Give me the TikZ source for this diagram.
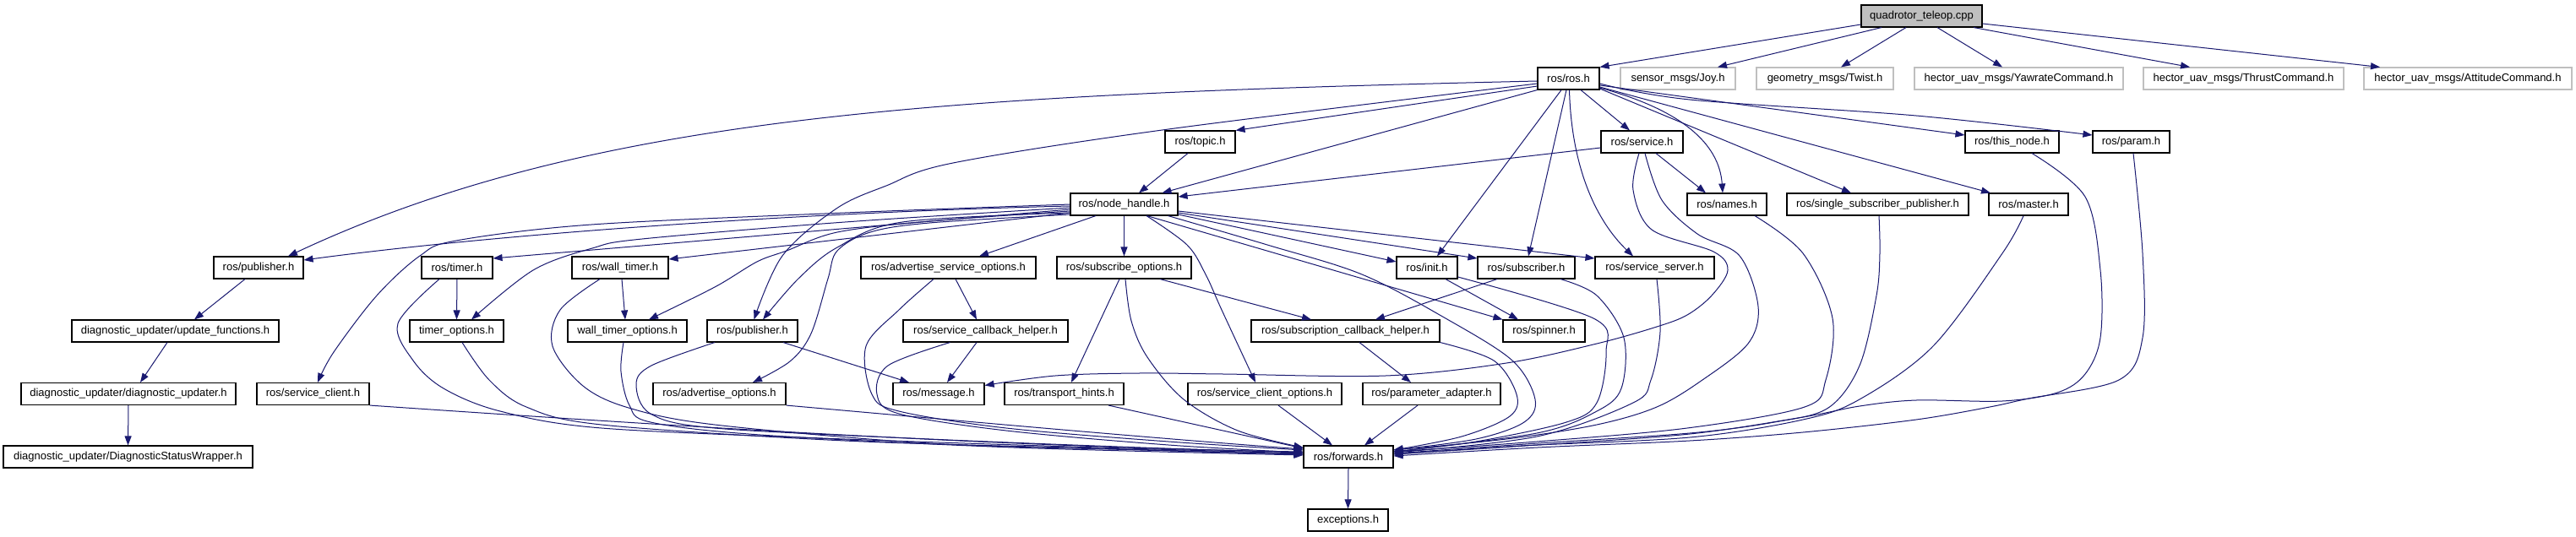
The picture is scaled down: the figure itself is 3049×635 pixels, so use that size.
\documentclass[tikz,border=0pt]{standalone}
\usepackage{fontspec}
\setmainfont{Liberation Sans}
\usetikzlibrary{arrows.meta}
\definecolor{mblue}{HTML}{191970}
\definecolor{lgray}{HTML}{BFBFBF}
\tikzset{
  hbox/.style={draw=black, line width=1.1pt, fill=white, minimum height=26pt, inner sep=0pt,
    font=\fontsize{13pt}{15pt}\selectfont},
  gbox/.style={hbox, draw=lgray},
  dep/.style={draw=mblue, line width=1pt, -{Triangle[length=11pt,width=8pt]}},
  sm/.style={smooth, tension=.55}
}
\begin{document}
\begin{tikzpicture}[x=1pt,y=-1pt]
\fill[white] (0,0) rectangle (3049,635);
\useasboundingbox (0,0) rectangle (3049,635);
% nodes
\node[hbox, fill=lgray, minimum width=143pt] (qt) at (2274.5,19) {quadrotor\_teleop.cpp};
\node[hbox, minimum width=73pt] (ros) at (1856.5,93) {ros/ros.h};
\node[gbox, minimum width=136pt] (joy) at (1986,93) {sensor\_msgs/Joy.h};
\node[gbox, minimum width=162pt] (twist) at (2160,93) {geometry\_msgs/Twist.h};
\node[gbox, minimum width=247pt] (yaw) at (2389.5,93) {hector\_uav\_msgs/YawrateCommand.h};
\node[gbox, minimum width=237pt] (thrust) at (2655.5,93) {hector\_uav\_msgs/ThrustCommand.h};
\node[gbox, minimum width=246pt] (att) at (2921,93) {hector\_uav\_msgs/AttitudeCommand.h};
\node[hbox, minimum width=83pt] (topic) at (1420.5,168) {ros/topic.h};
\node[hbox, minimum width=97pt] (service) at (1943.5,168) {ros/service.h};
\node[hbox, minimum width=111pt] (thisnode) at (2381.5,168) {ros/this\_node.h};
\node[hbox, minimum width=91pt] (param) at (2522.5,168) {ros/param.h};
\node[hbox, minimum width=127pt] (nh) at (1330.5,242) {ros/node\_handle.h};
\node[hbox, minimum width=94pt] (names) at (2044,242) {ros/names.h};
\node[hbox, minimum width=215pt] (ssp) at (2222.5,242) {ros/single\_subscriber\_publisher.h};
\node[hbox, minimum width=94pt] (master) at (2401,242) {ros/master.h};
\node[hbox, minimum width=106pt] (pubA) at (306,317) {ros/publisher.h};
\node[hbox, minimum width=84pt] (timer) at (541,317) {ros/timer.h};
\node[hbox, minimum width=114pt] (wtimer) at (734,317) {ros/wall\_timer.h};
\node[hbox, minimum width=207pt] (aso) at (1122.5,317) {ros/advertise\_service\_options.h};
\node[hbox, minimum width=159pt] (subopt) at (1330.5,317) {ros/subscribe\_options.h};
\node[hbox, minimum width=72pt] (init) at (1689,317) {ros/init.h};
\node[hbox, minimum width=115pt] (subscr) at (1806.5,317) {ros/subscriber.h};
\node[hbox, minimum width=141pt] (sserver) at (1958.5,317) {ros/service\_server.h};
\node[hbox, minimum width=245pt] (upd) at (207.5,392) {diagnostic\_updater/update\_functions.h};
\node[hbox, minimum width=111pt] (topt) at (540.5,392) {timer\_options.h};
\node[hbox, minimum width=141pt] (wtopt) at (742.5,392) {wall\_timer\_options.h};
\node[hbox, minimum width=107pt] (pubB) at (890.5,392) {ros/publisher.h};
\node[hbox, minimum width=195pt] (sch) at (1166.5,392) {ros/service\_callback\_helper.h};
\node[hbox, minimum width=223pt] (subch) at (1592.5,392) {ros/subscription\_callback\_helper.h};
\node[hbox, minimum width=97pt] (spinner) at (1827.5,392) {ros/spinner.h};
\node[hbox, minimum width=254pt] (dupd) at (152,466.5) {diagnostic\_updater/diagnostic\_updater.h};
\node[hbox, minimum width=133pt] (sclient) at (370.5,466.5) {ros/service\_client.h};
\node[hbox, minimum width=157pt] (advopt) at (851.5,466.5) {ros/advertise\_options.h};
\node[hbox, minimum width=108pt] (message) at (1111,466.5) {ros/message.h};
\node[hbox, minimum width=141pt] (thints) at (1259.5,466.5) {ros/transport\_hints.h};
\node[hbox, minimum width=182pt] (sco) at (1497,466.5) {ros/service\_client\_options.h};
\node[hbox, minimum width=163pt] (padapt) at (1694.5,466.5) {ros/parameter\_adapter.h};
\node[hbox, minimum width=295pt] (dsw) at (151.5,541) {diagnostic\_updater/DiagnosticStatusWrapper.h};
\node[hbox, minimum width=106pt] (fwd) at (1596,541) {ros/forwards.h};
\node[hbox, minimum width=95pt] (exc) at (1595.5,616) {exceptions.h};
% quadrotor_teleop.cpp
\draw[dep] ([yshift=-10pt]qt.west) -- (ros.north east);
\draw[dep] ([xshift=-47.5pt]qt.south) -- ([xshift=47pt]joy.north);
\draw[dep] ([xshift=-18.5pt]qt.south) -- ([xshift=19pt]twist.north);
\draw[dep] ([xshift=18.5pt]qt.south) -- ([xshift=-19.5pt]yaw.north);
\draw[dep] ([xshift=61.5pt]qt.south) -- ([xshift=-63.5pt]thrust.north);
\draw[dep] ([yshift=-9pt]qt.east) -- ([xshift=-104pt]att.north);
% ros/ros.h
\draw[dep] ([yshift=-3pt]ros.west) .. controls (1120,112) and (700,135) .. ([xshift=35pt]pubA.north);
\draw[dep] ([yshift=-9pt]ros.west) -- (topic.north east);
\draw[dep] (ros.south west) -- ([xshift=45pt]nh.north);
\draw[dep] plot[sm] coordinates {([yshift=-6pt]ros.west) (1383,153) (1128,193) (1049,220) (990,247) (926,303) ([xshift=2pt]pubB.north)};
\draw[dep] ([xshift=-8.5pt]ros.south) -- ([xshift=12pt]init.north);
\draw[dep] ([xshift=-2.5pt]ros.south) -- ([xshift=2.5pt]subscr.north);
\draw[dep] ([xshift=1pt]ros.south) .. controls (1860,200) and (1890,262) .. ([xshift=-25.5pt]sserver.north);
\draw[dep] ([xshift=14.5pt]ros.south) -- ([xshift=-14.5pt]service.north);
\draw[dep] ([yshift=-11pt]ros.east) .. controls (1990,130) and (2035,170) .. ([xshift=-5pt]names.north);
\draw[dep] ([yshift=-12pt]ros.east) -- ([xshift=-31.5pt]ssp.north);
\draw[dep] ([yshift=-10pt]ros.east) -- ([xshift=-45pt]master.north);
\draw[dep] ([yshift=-8pt]ros.east) -- ([yshift=8pt]thisnode.west);
\draw[dep] plot[sm] coordinates {([yshift=-6pt]ros.east) (2000,118) (2268,137) ([yshift=8pt]param.west)};
% topic, service
\draw[dep] ([xshift=-14.5pt]topic.south) -- ([xshift=17.5pt]nh.north);
\draw[dep] ([yshift=-7pt]service.west) -- ([yshift=9pt]nh.east);
\draw[dep] ([xshift=16.5pt]service.south) -- ([xshift=-25pt]names.north);
\draw[dep] plot[sm] coordinates {([xshift=-3.5pt]service.south) (1933,225) (1955,272) (2028,298) (2045,320) (2026,350) (1997,373) (1961,387) (1890,407) (1783,430) (1640,445) (1448,443) (1348,442) (1249,445) ([yshift=10pt]message.east)};
\draw[dep] plot[sm] coordinates {([xshift=3.5pt]service.south) (1967,237) (2009,277) (2059,303) (2081,363) (2069,407) (2015,450) (1961,482) (1890,503) (1783,520) ([yshift=8pt]fwd.east)};
% right column to forwards
\draw[dep] plot[sm] coordinates {([xshift=33pt]names.south) (2134,300) (2169,377) (2161,450) (2136,482) (1997,507) (1819,523) ([yshift=6pt]fwd.east)};
\draw[dep] plot[sm] coordinates {([xshift=1.5pt]ssp.south) (2225,300) (2221,350) (2201,433) (2164,483) (2100,500) (2000,513) (1820,525) ([yshift=4pt]fwd.east)};
\draw[dep] plot[sm] coordinates {([xshift=-6pt]master.south) (2370,300) (2288,410) (2201,473) (2134,497) (2000,518) (1800,528) ([yshift=3pt]fwd.east)};
\draw[dep] plot[sm] coordinates {([xshift=23.5pt]thisnode.south) (2468,233) (2486,320) (2486,400) (2468,443) (2435,465) (2370,475) (2268,474) (2201,481) (2134,494) (2000,514) (1820,527) ([yshift=3pt]fwd.east)};
\draw[dep] plot[sm] coordinates {([xshift=2.5pt]param.south) (2536,300) (2536,400) (2508,450) (2401,472) (2355,482) (2268,497) (2134,512) (2000,522) (1820,530) ([yshift=1pt]fwd.east)};
% init, subscriber, service_server
\draw[dep] ([xshift=22pt]init.south) -- ([xshift=-30.5pt]spinner.north);
\draw[dep] plot[sm] coordinates {([yshift=-11pt]init.east) (1886,377) (1901,417) (1890,477) (1854,500) (1747,523) ([yshift=6pt]fwd.east)};
\draw[dep] ([xshift=-34.5pt]subscr.south) -- ([xshift=35.5pt]subch.north);
\draw[dep] plot[sm] coordinates {([xshift=40.5pt]subscr.south) (1890,350) (1922,400) (1919,460) (1890,487) (1819,513) ([yshift=6pt]fwd.east)};
\draw[dep] plot[sm] coordinates {([xshift=2.5pt]sserver.south) (1965,393) (1954,450) (1933,477) (1819,517) ([yshift=5pt]fwd.east)};
% ros/node_handle.h
\draw[dep] ([yshift=-2pt]nh.west) .. controls (1000,250) and (620,273) .. ([yshift=9pt]pubA.east);
\draw[dep] ([yshift=-6pt]nh.west) -- ([yshift=11pt]timer.east);
\draw[dep] ([yshift=-10pt]nh.west) -- ([yshift=10pt]wtimer.east);
\draw[dep] plot[sm] coordinates {(nh.west) (1000,252) (700,266) (540,285) (497,303) (446,350) (395,417) ([xshift=5.5pt]sclient.north)};
\draw[dep] plot[sm] coordinates {([yshift=-4pt]nh.west) (1000,263) (760,283) (701,294) (631,320) ([xshift=17.5pt]topt.north)};
\draw[dep] plot[sm] coordinates {([yshift=-8pt]nh.west) (1100,262) (991,275) (931,297) (896,310) (846,340) ([xshift=25.5pt]wtopt.north)};
\draw[dep] plot[sm] coordinates {([yshift=-10pt]nh.west) (1068,263) (991,293) (945,330) ([xshift=12.5pt]pubB.north)};
\draw[dep] plot[sm] coordinates {([yshift=-12pt]nh.west) (1100,264) (1030,275) (991,297) (980,330) (960,395) (935,428) ([xshift=39.5pt]advopt.north)};
\draw[dep] ([xshift=-33.5pt]nh.south) -- ([xshift=36.5pt]aso.north);
\draw[dep] (nh.south) -- (subopt.north);
\draw[dep] plot[sm] coordinates {([xshift=26.5pt]nh.south) (1405,290) (1427,325) (1446,367) ([xshift=-11pt]sco.north)};
\draw[dep] ([xshift=27pt]nh.south) -- (spinner.north west);
\draw[dep] ([yshift=-12pt]nh.east) -- ([yshift=7pt]init.west);
\draw[dep] ([yshift=-10pt]nh.east) -- ([yshift=11pt]subscr.west);
\draw[dep] ([yshift=-8pt]nh.east) -- ([yshift=11pt]sserver.west);
\draw[dep] plot[sm] coordinates {([xshift=52pt]nh.south) (1500,290) (1612,325) (1711,377) (1790,427) (1817,473) (1804,500) (1747,520) ([yshift=8pt]fwd.east)};
% lower left
\draw[dep] ([xshift=-16pt]pubA.south) -- ([xshift=22.5pt]upd.north);
\draw[dep] ([xshift=-9.5pt]upd.south) -- ([xshift=14pt]dupd.north);
\draw[dep] (dupd.south) -- (dsw.north);
\draw[dep] (timer.south) -- (topt.north);
\draw[dep] ([xshift=2pt]wtimer.south) -- ([xshift=-2.5pt]wtopt.north);
\draw[dep] ([xshift=36.5pt]pubB.south) -- ([xshift=-35pt]message.north);
% into forwards from the left
\draw[dep] plot[sm] coordinates {([xshift=-21pt]timer.south) (471,383) (489,427) (525,460) (592,487) (712,507) (1000,520) (1300,530) ([yshift=4pt]fwd.west)};
\draw[dep] plot[sm] coordinates {([xshift=6.5pt]topt.south) (579,450) (623,482) (712,503) (1000,522) (1300,531) ([yshift=3pt]fwd.west)};
\draw[dep] plot[sm] coordinates {([xshift=-24pt]wtimer.south) (663,367) (654,410) (690,457) (744,483) (846,503) (1100,525) (1350,533) ([yshift=3pt]fwd.west)};
\draw[dep] plot[sm] coordinates {([xshift=-4.5pt]wtopt.south) (735,440) (745,480) (770,500) (900,515) (1200,530) ([yshift=2pt]fwd.west)};
\draw[dep] plot[sm] coordinates {([xshift=-44.5pt]pubB.south) (771,433) (753,455) (770,490) (846,507) (1100,520) (1350,530) ([yshift=5pt]fwd.west)};
\draw[dep] (sclient.south east) .. controls (800,505) and (1200,530) .. ([yshift=6pt]fwd.west);
\draw[dep] (advopt.south east) .. controls (1100,495) and (1350,518) .. ([yshift=9pt]fwd.west);
\draw[dep] plot[sm] coordinates {([xshift=-17.5pt]aso.south) (1064,367) (1025,410) (1032,467) (1064,487) (1191,507) (1383,523) ([yshift=8pt]fwd.west)};
\draw[dep] ([xshift=8.5pt]aso.south) -- ([xshift=-10.5pt]sch.north);
\draw[dep] ([xshift=-10.5pt]sch.south) -- ([xshift=10pt]message.north);
\draw[dep] plot[sm] coordinates {([xshift=-42pt]sch.south) (1051,433) (1038,467) (1064,490) (1191,510) (1383,527) ([yshift=5pt]fwd.west)};
\draw[dep] ([xshift=-5.5pt]subopt.south) -- ([xshift=8.5pt]thints.north);
\draw[dep] ([xshift=42.5pt]subopt.south) -- ([xshift=-40.5pt]subch.north);
\draw[dep] plot[sm] coordinates {([xshift=1.5pt]subopt.south) (1339,380) (1358,423) (1401,473) (1465,510) ([yshift=11pt]fwd.west)};
\draw[dep] ([xshift=52.5pt]thints.south) -- ([yshift=10pt]fwd.west);
\draw[dep] ([xshift=16pt]sco.south) -- ([xshift=-19pt]fwd.north);
\draw[dep] ([xshift=16.5pt]subch.south) -- ([xshift=-24.5pt]padapt.north);
\draw[dep] ([xshift=-16.5pt]padapt.south) -- ([xshift=19pt]fwd.north);
\draw[dep] plot[sm] coordinates {(subch.south east) (1768,427) (1795,467) (1787,493) (1730,517) ([yshift=8pt]fwd.east)};
\draw[dep] (fwd.south) -- (exc.north);
\end{tikzpicture}
\end{document}
